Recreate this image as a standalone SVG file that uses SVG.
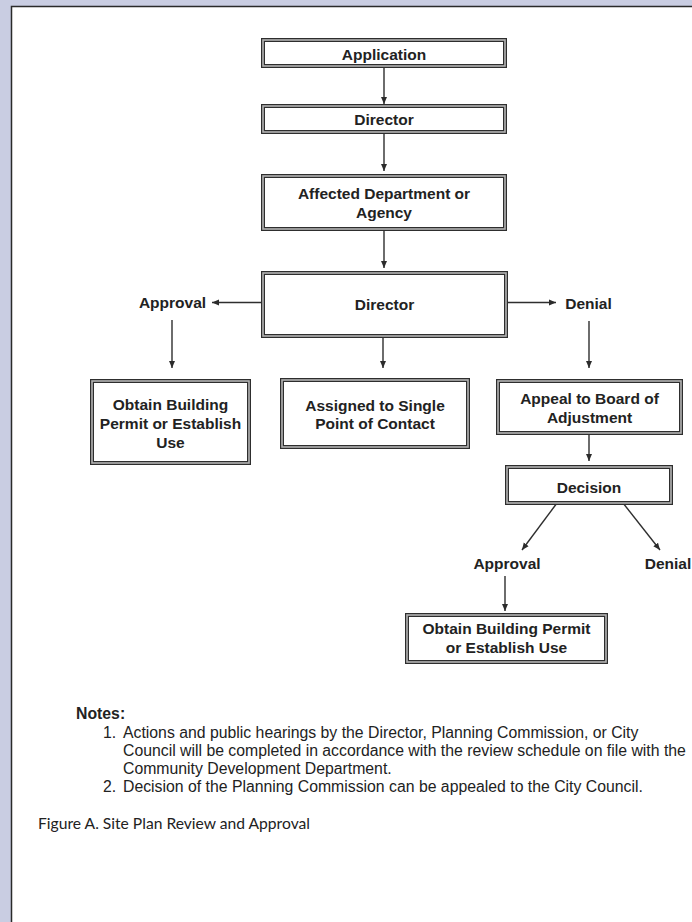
<svg xmlns="http://www.w3.org/2000/svg" width="692" height="922" viewBox="0 0 692 922">
<defs>
<marker id="ah" markerUnits="userSpaceOnUse" markerWidth="8" markerHeight="8" viewBox="0 0 8 8" refX="7" refY="4" orient="auto">
<path d="M0,1 L7,4 L0,7 Z" fill="#2b2b2b"/>
</marker>
<style>
.bo{fill:#fff;stroke:#2e2e2e;stroke-width:4}
.bi{fill:none;stroke:#b4b4b4;stroke-width:1.6}
.t{font-family:"Liberation Sans",Arial,sans-serif;font-weight:bold;font-size:15.5px;fill:#222;text-anchor:middle}
.n{font-family:"Liberation Sans",Arial,sans-serif;font-size:15.8px;fill:#222}
.c{stroke:#2e2e2e;stroke-width:1.4;fill:none;marker-end:url(#ah)}
</style>
</defs>
<rect x="0" y="0" width="692" height="922" fill="#c9cde2"/>
<rect x="11" y="6" width="681" height="916" fill="#fff"/>
<path d="M11.5,922 V6.5 H692" fill="none" stroke="#2a2a2a" stroke-width="1.5"/>

<g id="connectors">
<line class="c" x1="384" y1="66" x2="384" y2="104"/>
<line class="c" x1="384" y1="132" x2="384" y2="171"/>
<line class="c" x1="384" y1="229" x2="384" y2="268"/>
<line class="c" x1="263" y1="302.5" x2="212" y2="302.5"/>
<line class="c" x1="506" y1="302.5" x2="556" y2="302.5"/>
<line class="c" x1="172" y1="320" x2="172" y2="368"/>
<line class="c" x1="383" y1="336" x2="383" y2="368"/>
<line class="c" x1="589" y1="321" x2="589" y2="368"/>
<line class="c" x1="589" y1="433" x2="589" y2="461"/>
<line class="c" x1="557" y1="503" x2="522" y2="550"/>
<line class="c" x1="623" y1="503" x2="660" y2="550"/>
<line class="c" x1="505" y1="576" x2="505" y2="611"/>
</g>

<g id="application">
<rect class="bo" x="263" y="40" width="242" height="26"/><rect class="bi" x="263" y="40" width="242" height="26"/>
<text class="t" x="384" y="60">Application</text>
</g>
<g id="director1">
<rect class="bo" x="263" y="106" width="242" height="26"/><rect class="bi" x="263" y="106" width="242" height="26"/>
<text class="t" x="384" y="125">Director</text>
</g>
<g id="affected">
<rect class="bo" x="263" y="176" width="242" height="53"/><rect class="bi" x="263" y="176" width="242" height="53"/>
<text class="t" x="384" y="198.5">Affected Department or</text>
<text class="t" x="384" y="217.5">Agency</text>
</g>
<g id="director2">
<rect class="bo" x="263" y="273" width="243" height="63"/><rect class="bi" x="263" y="273" width="243" height="63"/>
<text class="t" x="384.5" y="309.5">Director</text>
</g>
<g id="approval1">
<text class="t" x="172.5" y="308">Approval</text>
</g>
<g id="denial1">
<text class="t" x="588.5" y="309">Denial</text>
</g>
<g id="obtain1">
<rect class="bo" x="92" y="381" width="157" height="82"/><rect class="bi" x="92" y="381" width="157" height="82"/>
<text class="t" x="170.5" y="409.5">Obtain Building</text>
<text class="t" x="170.5" y="428.5">Permit or Establish</text>
<text class="t" x="170.5" y="447.5">Use</text>
</g>
<g id="assigned">
<rect class="bo" x="282" y="380" width="186" height="67"/><rect class="bi" x="282" y="380" width="186" height="67"/>
<text class="t" x="375" y="410.5">Assigned to Single</text>
<text class="t" x="375" y="428.5">Point of Contact</text>
</g>
<g id="appeal">
<rect class="bo" x="498" y="381" width="183" height="52"/><rect class="bi" x="498" y="381" width="183" height="52"/>
<text class="t" x="589.5" y="403.5">Appeal to Board of</text>
<text class="t" x="589.5" y="422.5">Adjustment</text>
</g>
<g id="decision">
<rect class="bo" x="507" y="467" width="164" height="36"/><rect class="bi" x="507" y="467" width="164" height="36"/>
<text class="t" x="589" y="492.5">Decision</text>
</g>
<g id="approval2">
<text class="t" x="507" y="569">Approval</text>
</g>
<g id="denial2">
<text class="t" x="668" y="569">Denial</text>
</g>
<g id="obtain2">
<rect class="bo" x="407" y="615" width="199" height="47"/><rect class="bi" x="407" y="615" width="199" height="47"/>
<text class="t" x="506.5" y="633.5">Obtain Building Permit</text>
<text class="t" x="506.5" y="652.5">or Establish Use</text>
</g>

<g id="notes">
<text class="n" x="76" y="719" font-weight="bold">Notes:</text>
<text class="n" x="103" y="738">1.</text>
<text class="n" x="123" y="738">Actions and public hearings by the Director, Planning Commission, or City</text>
<text class="n" x="123" y="756">Council will be completed in accordance with the review schedule on file with the</text>
<text class="n" x="123" y="774">Community Development Department.</text>
<text class="n" x="103" y="792">2.</text>
<text class="n" x="123" y="792">Decision of the Planning Commission can be appealed to the City Council.</text>
</g>
<text x="38" y="829" font-family="Lato,'Open Sans',sans-serif" font-size="15" fill="#222" textLength="272" lengthAdjust="spacingAndGlyphs">Figure A. Site Plan Review and Approval</text>
</svg>
